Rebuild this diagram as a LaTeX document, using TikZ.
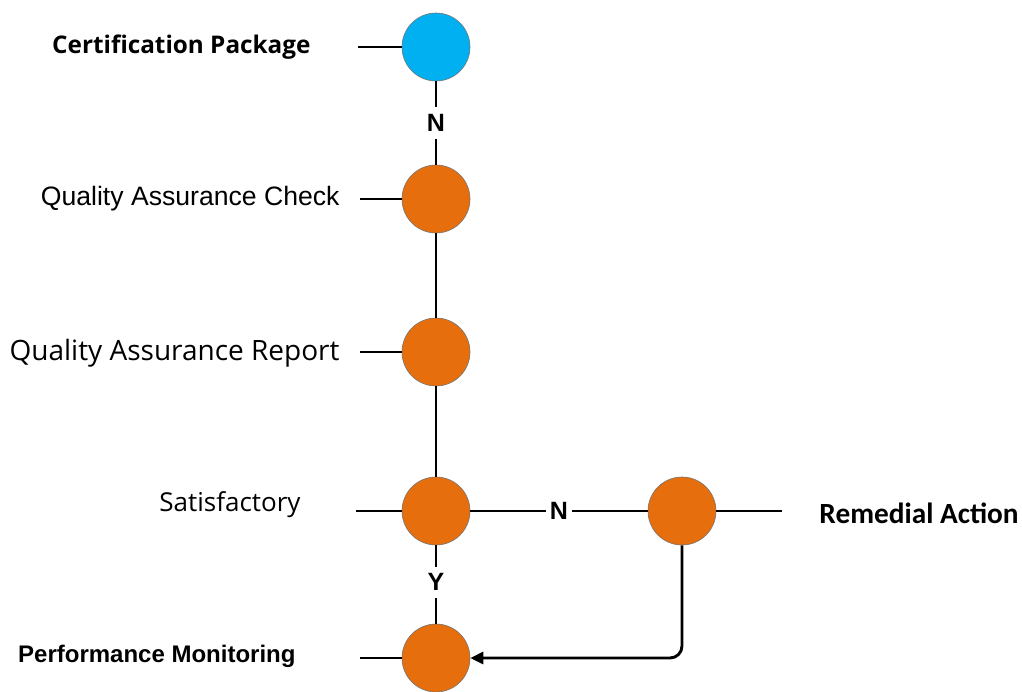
\documentclass[tikz,border=0pt]{standalone}
\usepackage{fontspec}
\newfontfamily\arialfont{Liberation Sans}
\newfontfamily\segoefont{Open Sans}
\newfontfamily\calibrifont{Carlito}
\usetikzlibrary{arrows.meta}
\definecolor{stepblue}{RGB}{0,176,240}
\definecolor{steporange}{RGB}{230,110,12}

\begin{document}
\begin{tikzpicture}[x=1pt, y=-1pt, line width=2.9pt,
        stage/.style = {circle, minimum size=68pt, inner sep=0pt, draw=black!55, line width=0.6pt, fill=steporange},
        flag/.style = {fill=white, inner xsep=4pt, inner ysep=7pt, font=\arialfont\bfseries\fontsize{25}{28}\selectfont},
        caption/.style = {inner sep=0pt, anchor=east}]

    \useasboundingbox (0,0) rectangle (1022,691);

    % Stages
    \node[stage, fill=stepblue] (cert) at (436,47) {};
    \node[stage] (qacheck) at (436,199) {};
    \node[stage] (qareport) at (436,352) {};
    \node[stage] (satis) at (436,511) {};
    \node[stage] (remedy) at (682,511) {};
    \node[stage] (perf) at (436,658) {};

    % Free ends of the short stubs
    \coordinate (certin) at (358,47);
    \coordinate (qacheckin) at (360,199);
    \coordinate (qareportin) at (360,352);
    \coordinate (satisin) at (356,511);
    \coordinate (remedyout) at (782,511);
    \coordinate (perfin) at (360,658);

    \draw (certin) -- (cert);
    \draw (qacheckin) -- (qacheck);
    \draw (qareportin) -- (qareport);
    \draw (satisin) -- (satis);
    \draw (remedy) -- (remedyout);
    \draw (perfin) -- (perf);

    % Flow
    \draw (cert) -- node[flag] {N} (qacheck);
    \draw (qacheck) -- (qareport);
    \draw (qareport) -- (satis);
    \draw (satis) -- node[flag] {N} (remedy);
    \draw (satis) -- node[flag, pos=0.47] {Y} (perf);
    \draw[-{Triangle[length=13pt, width=12pt]}, rounded corners=12pt] (remedy) |- (perf);

    % Captions
    \node[caption, font=\segoefont\bfseries\fontsize{24.3}{28}\selectfont] (certtext) at (312,47) {Certification Package};
    \node[caption, font=\arialfont\fontsize{26.6}{30}\selectfont] (qachecktext) at (341,199) {Quality Assurance Check};
    \node[caption, font=\segoefont\fontsize{28}{32}\selectfont] (qareporttext) at (341,353) {Quality Assurance Report};
    \node[inner sep=0pt, font=\segoefont\fontsize{26}{30}\selectfont] (satistext) at (230,505) {Satisfactory};
    \node[inner sep=0pt, anchor=west, font=\calibrifont\bfseries\fontsize{29.3}{32}\selectfont] (remedytext) at (818,513) {Remedial Action};
    \node[caption, font=\arialfont\bfseries\fontsize{24}{28}\selectfont] (perftext) at (297,656) {Performance Monitoring};

\end{tikzpicture}
\end{document}
